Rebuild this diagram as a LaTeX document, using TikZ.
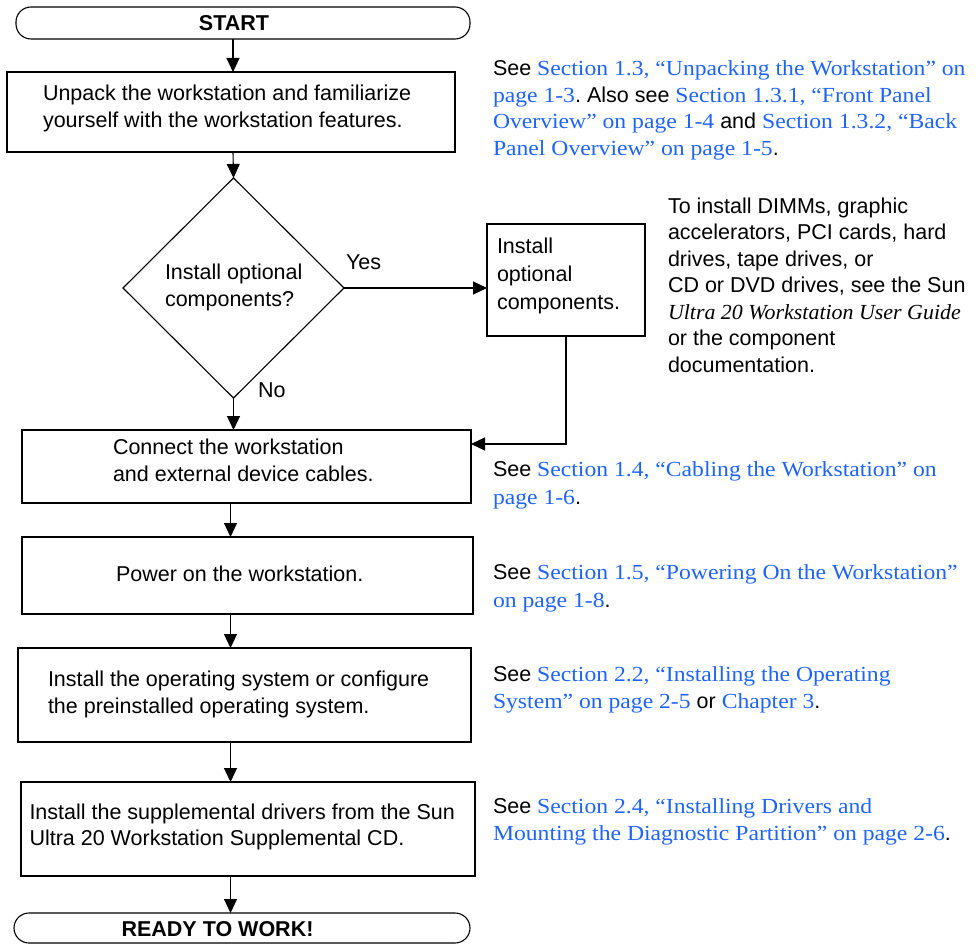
\documentclass[tikz,border=0pt]{standalone}
\usepackage{fontspec}
\setmainfont{Liberation Sans}
\newfontfamily\serfont[FakeStretch=1.1]{Liberation Serif}
\newfontfamily\seritfont[FakeStretch=1.02]{Liberation Serif}
\usetikzlibrary{arrows.meta,shapes.geometric}
\definecolor{linkblue}{RGB}{30,100,250}
\newcommand\lnk[1]{{\serfont\color{linkblue}#1}}
\frenchspacing
\begin{document}
\begin{tikzpicture}[x=1pt,y=-1pt,line width=1.1pt,
  every node/.style={inner sep=0pt,outer sep=0pt},
  boxn/.style={draw,rectangle,minimum width=#1},
  term/.style={draw,rectangle,rounded corners=15pt},
  arr/.style={-{Triangle[length=14pt,width=13pt]}},
  tx/.style={anchor=north west,align=left,font=\fontsize{21.5}{#1}\selectfont,yshift={0.7*#1}},
  lbl/.style={anchor=base west,font=\fontsize{21.5}{26}\selectfont},
  bold/.style={anchor=base,font=\fontsize{21.5}{26}\selectfont\bfseries}]
\useasboundingbox (0,0) rectangle (978,944);
% axes for vertical arrows
\coordinate (ax1) at (233,0);
\coordinate (ax2) at (230.5,0);
\coordinate (j) at (0,444);
% shapes
\node[term,minimum width=454pt,minimum height=32pt] (start) at (243,23) {};
\node[boxn=448pt,minimum height=80pt] (b1) at (231,112) {};
\node[draw,diamond,minimum width=221pt,minimum height=220pt] (dec) at (233.5,288) {};
\node[boxn=158pt,minimum height=112pt] (b2) at (566,280) {};
\node[boxn=449pt,minimum height=73pt] (b3) at (246.5,466.5) {};
\node[boxn=451pt,minimum height=77pt] (b4) at (247.5,575.5) {};
\node[boxn=453pt,minimum height=94pt] (b5) at (244.5,695) {};
\node[boxn=454pt,minimum height=94pt] (b6) at (248,829) {};
\node[term,minimum width=456pt,minimum height=30pt] (ready) at (242,928) {};
% texts in shapes
\node[bold] (tstart) at (234,31) {START};
\node[tx=27] (t1) at (43,101) {\strut Unpack the workstation and familiarize\\yourself with the workstation features.};
\node[tx=27] (tdec) at (165,280) {\strut Install optional\\components?};
\node[tx=28] (t2) at (497,253) {\strut Install\\optional\\components.};
\node[tx=27] (t3) at (113,454) {\strut Connect the workstation\\and external device cables.};
\node[lbl] (t4) at (116,581) {Power on the workstation.};
\node[tx=27] (t5) at (48,686) {\strut Install the operating system or configure\\the preinstalled operating system.};
\node[tx=26] (t6) at (29.5,819) {\strut Install the supplemental drivers from the Sun\\Ultra 20 Workstation Supplemental CD.};
\node[bold] (tready) at (217.5,936) {READY TO WORK!};
\node[lbl] (yes) at (346,270) {Yes};
\node[lbl] (no) at (258,397) {No};
% connectors
\draw[arr] (start.south -| ax1) -- (b1.north -| ax1);
\draw[arr] (b1.south -| ax1) -- (dec.north);
\draw[arr] (dec.east) -- (b2.west |- dec.east);
\draw[arr] (dec.south) -- (b3.north -| dec.south);
\draw[arr] (b2.south) |- (b3.east |- j);
\draw[arr] (b3.south -| ax2) -- (b4.north -| ax2);
\draw[arr] (b4.south -| ax2) -- (b5.north -| ax2);
\draw[arr] (b5.south -| ax2) -- (b6.north -| ax2);
\draw[arr] (b6.south -| ax2) -- (ready.north -| ax2);
% side notes
\node[tx=26.5] (n1) at (493,76) {\strut See \lnk{Section 1.3, “Unpacking the Workstation” on}\\
\lnk{page 1-3}. Also see \lnk{Section 1.3.1, “Front Panel}\\
\lnk{Overview” on page 1-4} and \lnk{Section 1.3.2, “Back}\\
\lnk{Panel Overview” on page 1-5}.};
\node[tx=26.5] (n2) at (668,213) {\strut To install DIMMs, graphic\\accelerators, PCI cards, hard\\drives, tape drives, or\\CD or DVD drives, see the Sun\\{\seritfont\itshape Ultra 20 Workstation User Guide}\\or the component\\documentation.};
\node[tx=28] (n3) at (493,476) {\strut See \lnk{Section 1.4, “Cabling the Workstation” on}\\\lnk{page 1-6}.};
\node[tx=28] (n4) at (493,579) {\strut See \lnk{Section 1.5, “Powering On the Workstation”}\\\lnk{on page 1-8}.};
\node[tx=27] (n5) at (493,681) {\strut See \lnk{Section 2.2, “Installing the Operating}\\\lnk{System” on page 2-5} or \lnk{Chapter 3}.};
\node[tx=27] (n6) at (493,813) {\strut See \lnk{Section 2.4, “Installing Drivers and}\\\lnk{Mounting the Diagnostic Partition” on page 2-6}.};
\end{tikzpicture}
\end{document}
